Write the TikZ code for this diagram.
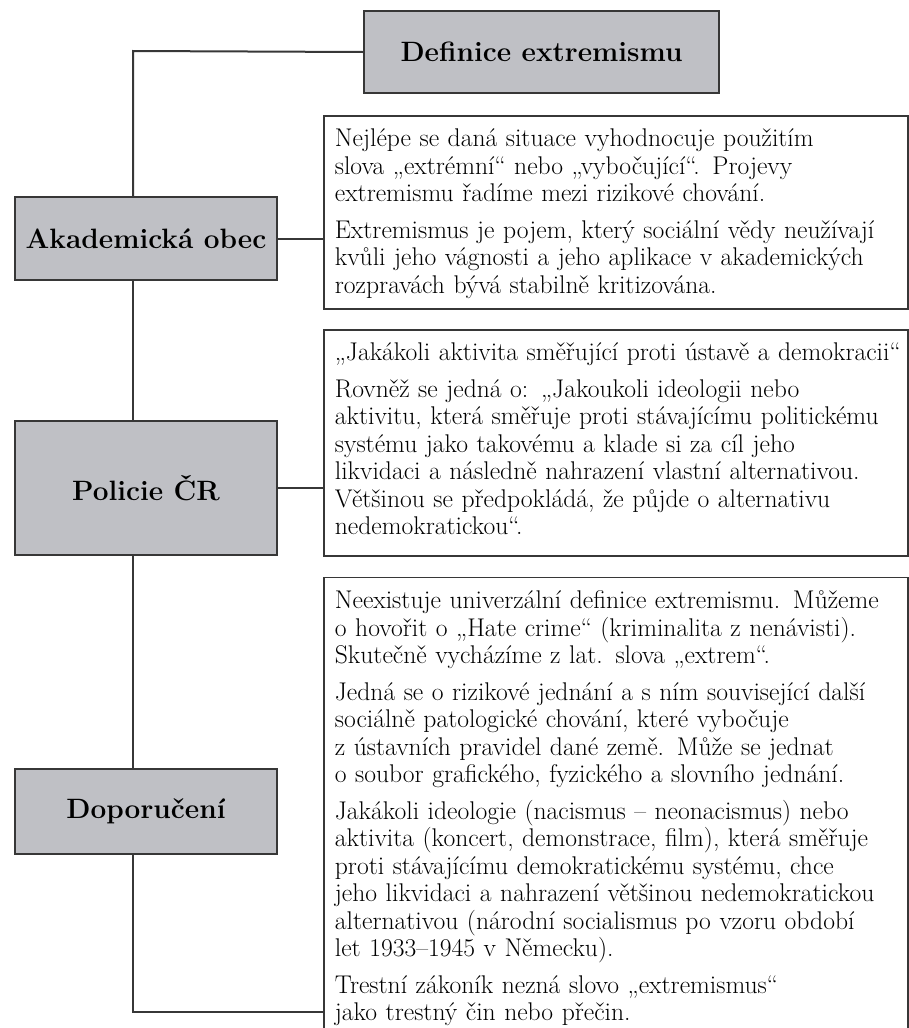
\documentclass[tikz,border=0pt]{standalone}
\usepackage{tikz}
\usetikzlibrary{positioning}
\definecolor{boxgray}{RGB}{191,192,197}
\definecolor{linegray}{RGB}{55,55,55}

\begin{document}
\begin{tikzpicture}[
        x=1pt, y=1pt,
        node distance=19pt,
        heading/.style={
            rectangle,
            draw=linegray,
            line width=2pt,
            fill=boxgray,
            minimum width=262pt,
            font=\fontsize{28}{32}\selectfont\bfseries,
            align=center,
            anchor=north west
        },
        textbox/.style={
            rectangle,
            draw=linegray,
            line width=1.8pt,
            fill=white,
            text width=562pt,
            inner xsep=11pt,
            inner ysep=12pt,
            text height=19pt,
            font=\fontsize{25.6}{27.5}\selectfont,
            align=left,
            anchor=north west
        },
        link/.style={draw=linegray, line width=2pt}
    ]

    \useasboundingbox (0,0) rectangle (909,-1028);
    \clip (0,0) rectangle (909,-1028);

    \node[heading, minimum width=355pt, minimum height=82pt] (definice)
        at (363,-10) {Definice extremismu};

    \node[heading, minimum height=83pt] (akademicka)
        at (14,-196) {Akademická obec};

    \node[heading, minimum height=134pt] (policie)
        at (14,-420) {Policie ČR};

    \node[heading, minimum height=85pt] (doporuceni)
        at (14,-768) {Doporučení};

    \node[textbox, text depth=150pt] (akademickatext) at (323,-115)
        {Nejlépe se daná situace vyhodnocuje použitím\\
         slova „extrémní“ nebo „vybočující“. Projevy\\
         extremismu řadíme mezi rizikové chování.\\[9pt]
         Extremismus je pojem, který sociální vědy neužívají\\
         kvůli jeho vágnosti a jeho aplikace v akademických\\
         rozpravách bývá stabilně kritizována.};

    \node[textbox, text depth=183pt, below=19pt of akademickatext] (policietext)
        {\mbox{„Jakákoli aktivita směřující proti ústavě a demokracii“}\\[9pt]
         Rovněž se jedná o: „Jakoukoli ideologii nebo\\
         aktivitu, která směřuje proti stávajícímu politickému\\
         systému jako takovému a klade si za cíl jeho\\
         likvidaci a následně nahrazení vlastní alternativou.\\
         Většinou se předpokládá, že půjde o alternativu\\
         nedemokratickou“.};

    \node[textbox, below=20pt of policietext] (doporucenitext)
        {Neexistuje univerzální definice extremismu. Můžeme\\
         o hovořit o „Hate crime“ (kriminalita z nenávisti).\\
         Skutečně vycházíme z lat. slova „extrem“.\\[9pt]
         Jedná se o rizikové jednání a s ním související další\\
         sociálně patologické chování, které vybočuje\\
         z ústavních pravidel dané země. Může se jednat\\
         o soubor grafického, fyzického a slovního jednání.\\[9pt]
         Jakákoli ideologie (nacismus – neonacismus) nebo\\
         aktivita (koncert, demonstrace, film), která směřuje\\
         proti stávajícímu demokratickému systému, chce\\
         jeho likvidaci a nahrazení většinou nedemokratickou\\
         alternativou (národní socialismus po vzoru období\\
         let 1933–1945 v Německu).\\[9pt]
         Trestní zákoník nezná slovo „extremismus“\\
         jako trestný čin nebo přečin.};

    \coordinate (spinetop) at (133,-51);
    \coordinate (spinebottom) at (133,-1012);

    \draw[link] (definice.west) -- (spinetop) -- (spinetop |- akademicka.north);
    \draw[link] (spinetop |- akademicka.south) -- (spinetop |- policie.north);
    \draw[link] (spinetop |- policie.south) -- (spinetop |- doporuceni.north);
    \draw[link] (spinetop |- doporuceni.south) -- (spinebottom)
        -- (spinebottom -| doporucenitext.west);

    \draw[link] (akademicka.east) -- (akademicka.east -| akademickatext.west);
    \draw[link] (policie.east) -- (policie.east -| policietext.west);

\end{tikzpicture}
\end{document}
